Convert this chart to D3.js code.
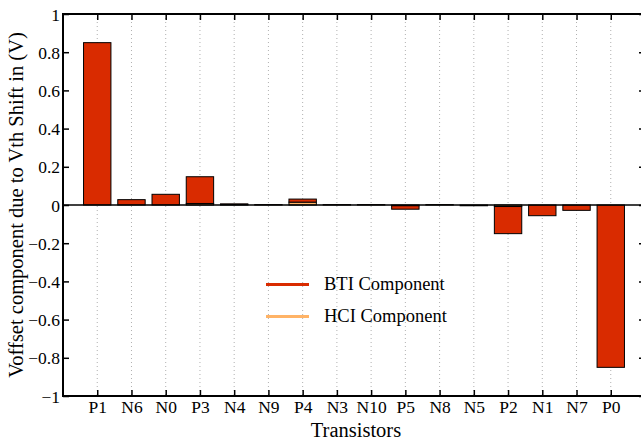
<!DOCTYPE html>
<html>
<head>
<meta charset="utf-8">
<script src="https://cdn.jsdelivr.net/npm/d3@7"></script>
<style>
  html, body { margin: 0; padding: 0; background: #fff; }
  svg { display: block; }
  svg text { font-family: "Liberation Serif", "Times New Roman", serif; fill: #000; }
</style>
</head>
<body>
<svg id="chart" width="641" height="441"></svg>
<script>
// Transistors, in plotted order
const transistors = ["P1","N6","N0","P3","N4","N9","P4","N3","N10","P5","N8","N5","P2","N1","N7","P0"];
// Offset contributions (V): HCI stacked first, BTI on top of it
const hciValues = [0.000, 0.000, 0.000, 0.008, 0.002, 0.000, 0.015, 0.000, 0.000, -0.004, 0.000, 0.000, -0.008, 0.000, 0.000, 0.000];
const btiValues = [0.850, 0.028, 0.056, 0.140, 0.004, 0.002, 0.016, 0.002, 0.002, -0.018, 0.002, -0.004, -0.142, -0.056, -0.028, -0.850];
const yTicks = [-1, -0.8, -0.6, -0.4, -0.2, 0, 0.2, 0.4, 0.6, 0.8, 1];
const seriesNames = ["BTI Component", "HCI Component"];

const colors = { bti: "#d92b00", hci: "#ffb366" };

const svg = d3.select("#chart");
const plotL = 63, plotR = 645, plotT = 14, plotB = 396;

const x = d3.scaleLinear().domain([0, transistors.length + 1]).range([plotL, plotR]);
const y = d3.scaleLinear().domain([-1, 1]).range([plotB, plotT]);
const barW = x(0.8) - x(0);

// vertical dotted grid at each category
svg.append("g").selectAll("line").data(transistors).join("line")
  .attr("x1", (d, i) => x(i + 1)).attr("x2", (d, i) => x(i + 1))
  .attr("y1", plotT).attr("y2", plotB)
  .attr("stroke", "#b0b0b0").attr("stroke-width", 1)
  .attr("stroke-dasharray", "1,3");

// stacked bars
const rows = transistors.map((t, i) => ({ t, i, hci: hciValues[i], bti: btiValues[i] }));
const stack = d3.stack().keys(["hci", "bti"]).offset(d3.stackOffsetNone);
const layers = stack(rows);
svg.append("g").selectAll("g").data(layers).join("g")
  .attr("fill", d => colors[d.key])
  .selectAll("rect").data(d => d).join("rect")
  .attr("x", d => x(d.data.i + 1) - barW / 2)
  .attr("width", barW)
  .attr("y", d => y(Math.max(d[0], d[1])))
  .attr("height", d => Math.abs(y(d[0]) - y(d[1])))
  .attr("stroke", "#000").attr("stroke-width", 1);

// zero baseline
svg.append("line")
  .attr("x1", plotL).attr("x2", plotR).attr("y1", y(0)).attr("y2", y(0))
  .attr("stroke", "#000").attr("stroke-width", 1.5);

// frame
svg.append("rect")
  .attr("x", plotL).attr("y", plotT).attr("width", plotR - plotL).attr("height", plotB - plotT)
  .attr("fill", "none").attr("stroke", "#000").attr("stroke-width", 2);

// axes
const fmt = v => (v < 0 ? "\u2212" : "") + Math.abs(v).toString();
const yAxis = d3.axisLeft(y).tickValues(yTicks).tickSize(-6).tickPadding(3).tickFormat(fmt);
const gy = svg.append("g").attr("transform", `translate(${plotL},0)`).call(yAxis);
const yAxisR = d3.axisRight(y).tickValues(yTicks).tickSize(-6).tickFormat("");
const gyr = svg.append("g").attr("transform", `translate(${plotR},0)`).call(yAxisR);
const xAxis = d3.axisBottom(x).tickValues(transistors.map((d, i) => i + 1)).tickSize(-6).tickPadding(5)
  .tickFormat(v => transistors[v - 1]);
const gx = svg.append("g").attr("transform", `translate(0,${plotB})`).call(xAxis);
const xAxisT = d3.axisTop(x).tickValues(transistors.map((d, i) => i + 1)).tickSize(-6).tickFormat("");
const gxt = svg.append("g").attr("transform", `translate(0,${plotT})`).call(xAxisT);

[gy, gyr, gx, gxt].forEach(g => {
  g.attr("font-family", null).attr("font-size", null);
  g.select(".domain").remove();
  g.selectAll(".tick line").attr("stroke", "#000").attr("stroke-width", 1.5);
  g.selectAll("text").style("font-size", "17.5px").attr("fill", "#000");
});
gy.selectAll("text").attr("dy", "0.35em");

// axis titles
svg.append("text")
  .attr("x", 356).attr("y", 437)
  .attr("text-anchor", "middle").style("font-size", "20.5px")
  .text("Transistors");
svg.append("text")
  .attr("transform", `translate(23,${(plotT + plotB) / 2}) rotate(-90)`)
  .attr("text-anchor", "middle").style("font-size", "20.5px")
  .text("Voffset component due to Vth Shift in (V)");

// legend
const legend = svg.append("g");
const legendItems = [
  { name: seriesNames[0], color: colors.bti, yy: 284.5, base: 289.5 },
  { name: seriesNames[1], color: colors.hci, yy: 316.5, base: 321.5 }
];
legendItems.forEach(it => {
  legend.append("line").attr("x1", 266).attr("x2", 309).attr("y1", it.yy).attr("y2", it.yy)
    .attr("stroke", it.color).attr("stroke-width", 3);
  legend.append("text").attr("x", 324).attr("y", it.base)
    .style("font-size", "18.5px").text(it.name);
});
</script>
</body>
</html>
